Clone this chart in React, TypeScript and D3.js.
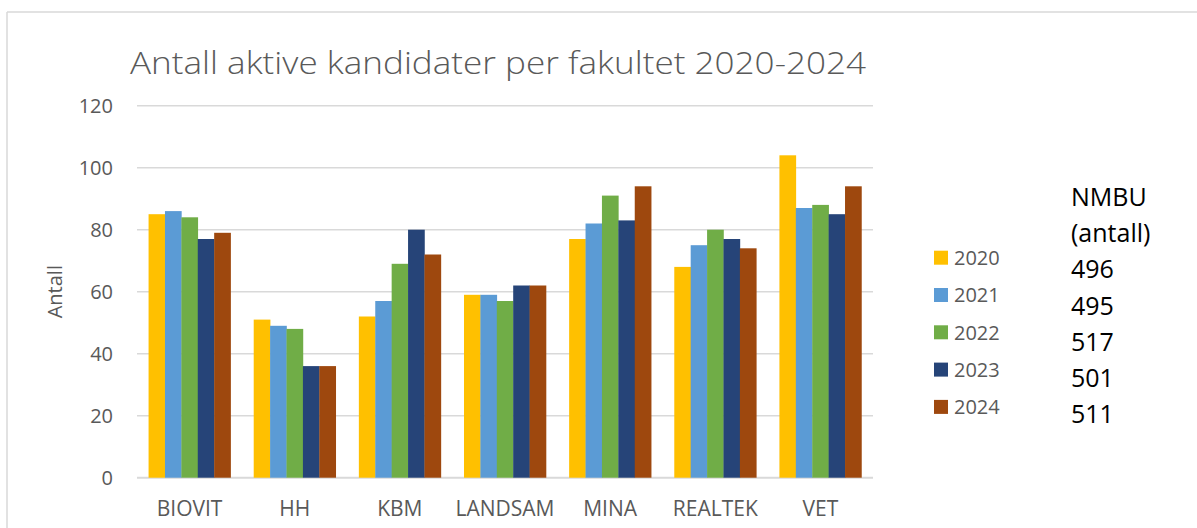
import React from "react";
import * as d3 from "d3";

const categories = ["BIOVIT", "HH", "KBM", "LANDSAM", "MINA", "REALTEK", "VET"];
const years = ["2020", "2021", "2022", "2023", "2024"];
const values2020 = [85, 51, 52, 59, 77, 68, 104];
const values2021 = [86, 49, 57, 59, 82, 75, 87];
const values2022 = [84, 48, 69, 57, 91, 80, 88];
const values2023 = [77, 36, 80, 62, 83, 77, 85];
const values2024 = [79, 36, 72, 62, 94, 74, 94];
const seriesValues = [values2020, values2021, values2022, values2023, values2024];
const colors = ["#FFC000", "#5B9BD5", "#70AD47", "#264478", "#9E480E"];
const yTicks = [0, 20, 40, 60, 80, 100, 120];
const nmbuHeader = ["NMBU", "(antall)"];
const nmbuTotals = ["496", "495", "517", "501", "511"];

const W = 1197;
const H = 528;
const FONT = "'Open Sans', 'Noto Sans', sans-serif";

export default function App() {
  const x0 = d3.scaleBand<string>().domain(categories).range([137, 873]).paddingInner(0.22).paddingOuter(0.11);
  const x1 = d3.scaleBand<string>().domain(years).range([0, x0.bandwidth()]).padding(0);
  const y = d3.scaleLinear().domain([0, 120]).range([477.7, 105.7]);
  const [plotLeft, plotRight] = [137, 873];
  const legendY = d3.scaleLinear().domain([0, 4]).range([257.7, 406.9]);
  const nmbuY = d3.scaleLinear().domain([0, 6]).range([206, 423]);

  return (
    <svg
      width={W}
      height={H}
      style={{ position: "absolute", left: 0, top: 0, background: "#fff" }}
      fontFamily={FONT}
    >
      <rect x={0} y={0} width={W} height={H} fill="#fff" />
      {/* outer chart border */}
      <line x1={7} y1={12} x2={W} y2={12} stroke="#d9d9d9" strokeWidth={1.5} />
      <line x1={7} y1={12} x2={7} y2={H} stroke="#d9d9d9" strokeWidth={1.5} />

      <text
        x={130}
        y={74}
        fontSize={32}
        fontWeight={300}
        fill="#595959"
        textLength={736}
        lengthAdjust="spacingAndGlyphs"
      >
        Antall aktive kandidater per fakultet 2020-2024
      </text>

      {yTicks.map((t) => (
        <g key={t}>
          <line x1={plotLeft} x2={plotRight} y1={y(t)} y2={y(t)} stroke="#d9d9d9" strokeWidth={t === 0 ? 2 : 1.5} />
          <text x={113} y={y(t)} dy="0.36em" textAnchor="end" fontSize={20} fill="#595959">
            {t}
          </text>
        </g>
      ))}

      <text
        transform={`translate(62, ${y(60)}) rotate(-90)`}
        textAnchor="middle"
        fontSize={20}
        fill="#595959"
      >
        Antall
      </text>

      {categories.map((c, ci) => (
        <g key={c} transform={`translate(${x0(c)},0)`}>
          {years.map((yr, si) => {
            const v = seriesValues[si][ci];
            return (
              <rect
                key={yr}
                x={x1(yr)}
                y={y(v)}
                width={x1.bandwidth() + 0.3}
                height={y(0) - y(v)}
                fill={colors[si]}
              />
            );
          })}
          <text x={x0.bandwidth() / 2} y={516} textAnchor="middle" fontSize={21} fill="#595959">
            {c}
          </text>
        </g>
      ))}

      {years.map((yr, i) => (
        <g key={yr}>
          <rect x={934} y={legendY(i) - 7} width={14} height={14} fill={colors[i]} />
          <text x={954} y={legendY(i)} dy="0.36em" fontSize={20} fill="#595959">
            {yr}
          </text>
        </g>
      ))}

      {[...nmbuHeader, ...nmbuTotals].map((s, i) => (
        <text key={i} x={1071} y={nmbuY(i)} fontSize={25} fill="#000">
          {s}
        </text>
      ))}
    </svg>
  );
}
